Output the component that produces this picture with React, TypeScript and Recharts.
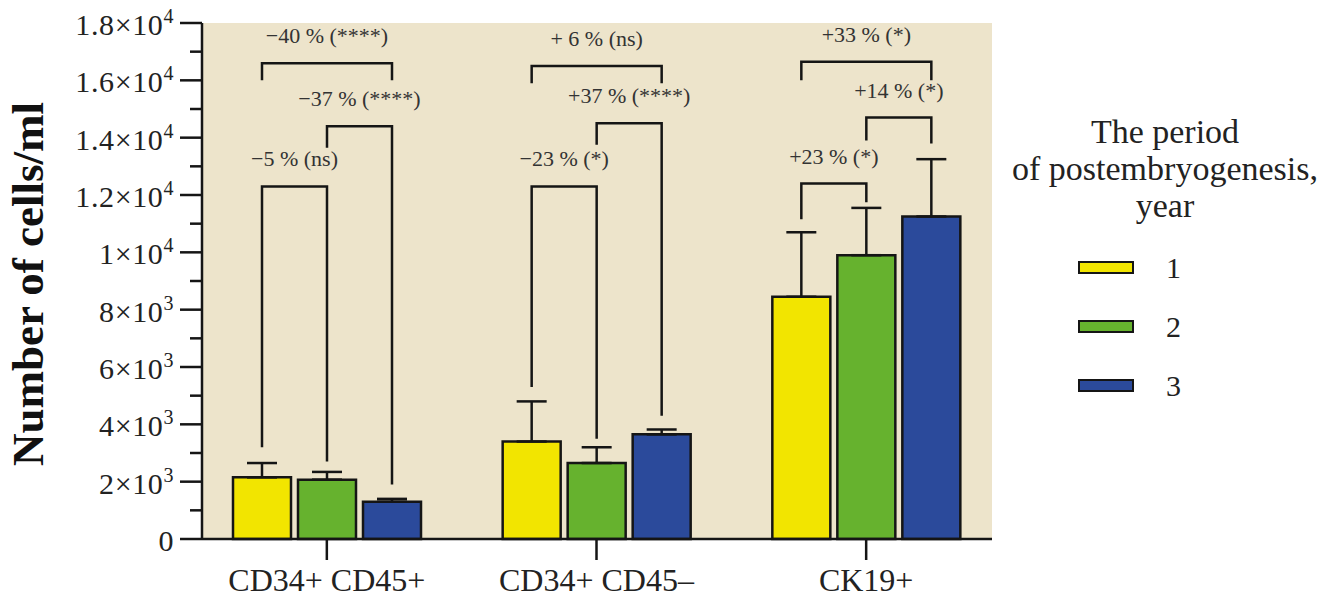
import React from 'react';
import { BarChart, Bar, XAxis, YAxis, CartesianGrid, ErrorBar, Legend, LabelList } from 'recharts';

const categories = ['CD34+ CD45+', 'CD34+ CD45–', 'CK19+'];
const periods = ['1', '2', '3'];
const year1 = [2150, 3400, 8450];
const year2 = [2070, 2650, 9900];
const year3 = [1300, 3650, 11250];
const err1 = [500, 1400, 2250];
const err2 = [270, 550, 1650];
const err3 = [100, 170, 2000];
const yTicks = [0, 1000, 2000, 3000, 4000, 5000, 6000, 7000, 8000, 9000, 10000, 11000, 12000, 13000, 14000, 15000, 16000, 17000, 18000];

// significance brackets: category, bars joined, top of bracket, ends of the two legs, text
const bracketCat = [0, 0, 0, 1, 1, 1, 2, 2, 2];
const bracketFrom = [0, 1, 0, 0, 1, 0, 0, 1, 0];
const bracketTo = [1, 2, 2, 1, 2, 2, 1, 2, 2];
const bracketTop = [12300, 14400, 16600, 12300, 14500, 16500, 12400, 14700, 16650];
const bracketLeftEnd = [3200, 13650, 16000, 5300, 13750, 15900, 11150, 13900, 16000];
const bracketRightEnd = [2700, 1900, 16000, 3500, 4300, 15900, 11750, 13800, 16000];
const bracketLabels = ['−5 % (ns)', '−37 % (****)', '−40 % (****)', '−23 % (*)', '+37 % (****)', '+ 6 % (ns)', '+23 % (*)', '+14 % (*)', '+33 % (*)'];

const COLORS = ['#F2E500', '#66B22E', '#2B4A9B'];
const FONT = '"Liberation Serif", "Times New Roman", serif';
const INK = '#151515';
const BAR_SIZE = 58;
const BAR_GAP = 7;

const data = categories.map((cat, i) => ({
  cat,
  y1: year1[i],
  y2: year2[i],
  y3: year3[i],
  e1: [0, err1[i]],
  e2: [0, err2[i]],
  e3: [0, err3[i]],
}));

const YTick = (props: any) => {
  const { x, y, payload } = props;
  const v = payload.value;
  const major = v % 2000 === 0;
  const axisX = x + 6 + 22;
  let mant = '';
  let exp = '';
  if (v >= 10000) {
    mant = String(v / 10000);
    exp = '4';
  } else if (v > 0) {
    mant = String(v / 1000);
    exp = '3';
  }
  return (
    <g>
      <line x1={axisX - (major ? 22 : 12)} x2={axisX} y1={y} y2={y} stroke={INK} strokeWidth={2.5} />
      {major && (
        <text x={x} y={y} dy="0.4em" textAnchor="end" fontFamily={FONT} fontSize={30} letterSpacing={0.6} fill="#222">
          {v === 0 ? (
            '0'
          ) : (
            <>
              <tspan>{mant}×10</tspan>
              <tspan dy={-12} fontSize={20}>{exp}</tspan>
            </>
          )}
        </text>
      )}
    </g>
  );
};

const YTitle = (props: any) => {
  const vb = props.viewBox || {};
  const cy = (vb.y ?? 23) + (vb.height ?? 516) / 2 + 3;
  return (
    <text
      x={43}
      y={cy}
      transform={`rotate(-90, 43, ${cy})`}
      textAnchor="middle"
      fontFamily={FONT}
      fontWeight="bold"
      fontSize={45}
      fill="#111"
    >
      Number of cells/ml
    </text>
  );
};

// drawn from the last series so every bar position of the group is known
const renderBrackets = (props: any) => {
  const vb = props.viewBox && props.viewBox.width !== undefined ? props.viewBox : props;
  const { x, y, width, height } = vb;
  const index = props.index;
  if (x === undefined || index === undefined) return null;
  const base = y + height;
  const k = height / year3[index];
  const py = (v: number) => base - v * k;
  const step = width + BAR_GAP;
  const cx = (i: number) => x + width / 2 - (2 - i) * step;
  const out: React.ReactNode[] = [];
  bracketCat.forEach((c, b) => {
    if (c !== index) return;
    const lx = cx(bracketFrom[b]);
    const rx = cx(bracketTo[b]);
    const ty = py(bracketTop[b]);
    out.push(
      <g key={b}>
        <path
          d={`M${lx},${py(bracketLeftEnd[b])} L${lx},${ty} L${rx},${ty} L${rx},${py(bracketRightEnd[b])}`}
          fill="none"
          stroke={INK}
          strokeWidth={2.5}
        />
        <text x={(lx + rx) / 2} y={ty - 20} textAnchor="middle" fontFamily={FONT} fontSize={22} fill="#333">
          {bracketLabels[b]}
        </text>
      </g>
    );
  });
  return <g>{out}</g>;
};

const LegendBox = () => (
  <div style={{ fontFamily: FONT, color: '#222', width: 340 }}>
    <div style={{ fontSize: 34, lineHeight: '37px', textAlign: 'center' }}>
      <div>The period</div>
      <div>of postembryogenesis,</div>
      <div>year</div>
    </div>
    <div style={{ marginTop: 14 }}>
      {periods.map((p, i) => (
        <div key={p} style={{ height: 59, display: 'flex', alignItems: 'center', paddingLeft: 83 }}>
          <span
            style={{
              display: 'inline-block',
              width: 52,
              height: 9,
              background: COLORS[i],
              border: `2px solid ${INK}`,
            }}
          />
          <span style={{ fontSize: 30, marginLeft: 32 }}>{p}</span>
        </div>
      ))}
    </div>
  </div>
);

export default function App() {
  const axisStyle = { stroke: INK, strokeWidth: 2.5 };
  return (
    <div style={{ position: 'absolute', left: 0, top: 0, width: 1342, height: 597, background: '#fff' }}>
      <BarChart
        width={1342}
        height={597}
        data={data}
        margin={{ top: 23, right: 350, bottom: 0, left: 0 }}
        barSize={BAR_SIZE}
        barGap={BAR_GAP}
      >
        <CartesianGrid horizontal={false} vertical={false} fill="#EDE4CB" />
        <XAxis
          dataKey="cat"
          height={58}
          padding={{ left: -10, right: -9 }}
          tickSize={21}
          tickMargin={8}
          axisLine={axisStyle}
          tickLine={axisStyle}
          tick={{ fontFamily: FONT, fontSize: 32, fill: '#222' }}
          interval={0}
        />
        <XAxis xAxisId="top" orientation="top" dataKey="cat" height={0} tick={false} tickLine={false} axisLine={axisStyle} />
        <YAxis
          width={202}
          domain={[0, 18000]}
          ticks={yTicks}
          interval={0}
          tickSize={22}
          tickMargin={6}
          tickLine={false}
          axisLine={axisStyle}
          tick={<YTick />}
          label={<YTitle />}
        />
        <YAxis yAxisId="right" orientation="right" width={0} domain={[0, 18000]} tick={false} tickLine={false} axisLine={axisStyle} />
        <Bar dataKey="y1" name={periods[0]} fill={COLORS[0]} stroke={INK} strokeWidth={2.5} isAnimationActive={false}>
          <ErrorBar dataKey="e1" direction="y" width={15} stroke={INK} strokeWidth={2.5} isAnimationActive={false} />
        </Bar>
        <Bar dataKey="y2" name={periods[1]} fill={COLORS[1]} stroke={INK} strokeWidth={2.5} isAnimationActive={false}>
          <ErrorBar dataKey="e2" direction="y" width={15} stroke={INK} strokeWidth={2.5} isAnimationActive={false} />
        </Bar>
        <Bar dataKey="y3" name={periods[2]} fill={COLORS[2]} stroke={INK} strokeWidth={2.5} isAnimationActive={false}>
          <ErrorBar dataKey="e3" direction="y" width={15} stroke={INK} strokeWidth={2.5} isAnimationActive={false} />
          <LabelList dataKey="y3" content={renderBrackets} />
        </Bar>
        <Legend
          layout="horizontal"
          align="center"
          verticalAlign="middle"
          content={<LegendBox />}
          wrapperStyle={{ left: 995, top: 113, width: 340 }}
        />
      </BarChart>
    </div>
  );
}
